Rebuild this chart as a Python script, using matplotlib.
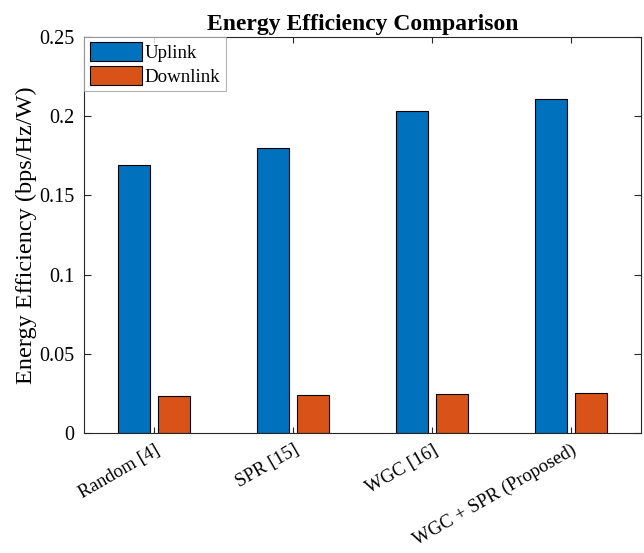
import matplotlib.pyplot as plt
import numpy as np

plt.rcParams['font.family'] = ['Liberation Serif', 'DejaVu Serif']

methods = ["Random [4]", "SPR [15]", "WGC [16]", "WGC + SPR (Proposed)"]
uplink = [0.169, 0.180, 0.2035, 0.211]
downlink = [0.0232, 0.0243, 0.0249, 0.0257]

x = np.arange(1, len(methods) + 1)
width = 0.23
offset = 0.143

fig = plt.figure(figsize=(6.44, 5.53), dpi=100)
ax = fig.add_axes([0.131, 0.2165, 0.864, 0.717])

ax.bar(x - offset, uplink, width, color="#0072BD", edgecolor="black", linewidth=0.8, label="Uplink")
ax.bar(x + offset, downlink, width, color="#D95319", edgecolor="black", linewidth=0.8, label="Downlink")

ax.set_xlim(0.5, 4.5)
ax.set_ylim(0, 0.25)
ax.set_yticks([0, 0.05, 0.1, 0.15, 0.2, 0.25])
ax.set_yticklabels(["0", "0.05", "0.1", "0.15", "0.2", "0.25"])
ax.set_xticks(x)
ax.set_xticklabels(methods, rotation=30, ha="right", rotation_mode="anchor")
ax.tick_params(direction="in", top=True, right=True, labelsize=14.5, length=5, width=0.8, color="#262626")
ax.tick_params(axis="y", pad=7)
ax.tick_params(axis="x", pad=6, length=4, labelsize=13.6)
for s in ax.spines.values():
    s.set_linewidth(0.8)
    s.set_color("#262626")

ax.set_ylabel("Energy Efficiency (bps/Hz/W)", fontsize=17.5, labelpad=2)
ax.set_title("Energy Efficiency Comparison", fontsize=17, fontweight="bold", pad=5)

leg = ax.legend(loc="upper left", fontsize=13.6, frameon=True, fancybox=False, borderaxespad=0.0,
                handlelength=2.75, handleheight=1.15, handletextpad=0.15, borderpad=0.3, labelspacing=0.2)
leg.get_frame().set_edgecolor("#a0a0a0")
leg.get_frame().set_linewidth(0.8)

fig.savefig("out.png", dpi=100)
